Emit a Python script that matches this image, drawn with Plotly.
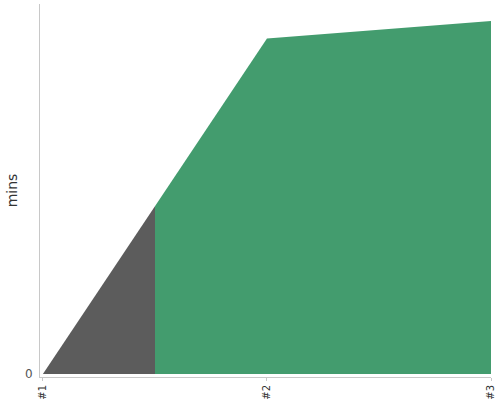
import plotly.graph_objects as go

# Data for the area chart
positions = [0, 1, 2]
tick_labels = ["#1", "#2", "#3"]
mins = [0, 19, 20]

gray = "#5c5c5c"
green = "#439c6e"

fig = go.Figure()

# One filled area; a hard-stop horizontal gradient switches gray -> green
fig.add_trace(go.Scatter(
    x=positions, y=mins,
    mode="none", fill="tozeroy",
    fillgradient=dict(
        type="horizontal",
        start=positions[0], stop=positions[-1],
        colorscale=[[0, gray], [0.25, gray], [0.25, green], [1, green]],
    ),
    hoverinfo="x+y",
    showlegend=False,
))

fig.update_layout(
    width=500, height=400,
    margin=dict(l=40, r=9, t=4, b=23),
    plot_bgcolor="white", paper_bgcolor="white",
    font=dict(family="DejaVu Sans", color="#444"),
    xaxis=dict(
        tickmode="array", tickvals=positions, ticktext=tick_labels,
        tickangle=-90, tickfont=dict(size=10, color="#333"),
        range=[-0.013, 2], showgrid=False, zeroline=False,
        showline=True, linecolor="#c8c8c8", linewidth=1,
        ticks="outside", ticklen=3, tickcolor="#c8c8c8",
        automargin=False,
    ),
    yaxis=dict(
        title=dict(text="mins", font=dict(size=14, color="#333"), standoff=4),
        tickmode="array", tickvals=[0], ticktext=["0"],
        tickfont=dict(size=12, color="#555"),
        ticks="outside", ticklen=4, tickcolor="rgba(0,0,0,0)",
        range=[-0.17, 20.96], showgrid=False, zeroline=False,
        showline=True, linecolor="#c8c8c8", linewidth=1,
        automargin=False,
    ),
)

# Drop the page's default body margin so the chart sits at the window corner
fig.write_html("out.html", config={"displayModeBar": False},
               post_script="document.body.style.margin = '0';")
